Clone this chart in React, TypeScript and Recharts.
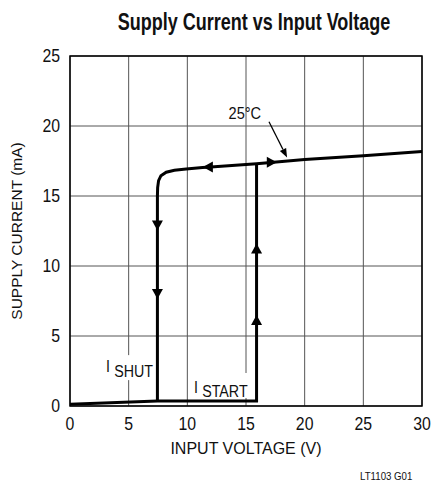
import React from "react";
import {
  ComposedChart,
  Line,
  Scatter,
  XAxis,
  YAxis,
  CartesianGrid,
  ReferenceArea,
  ReferenceDot,
  ReferenceLine,
} from "recharts";

const FONT = "'Liberation Sans', Arial, sans-serif";

const xTicks = [0, 5, 10, 15, 20, 25, 30];
const yTicks = [0, 5, 10, 15, 20, 25];

// falling branch: high VIN down through the knee to shutdown
const shutdownPath = [
  { x: 30, y: 18.17 },
  { x: 25, y: 17.88 },
  { x: 20, y: 17.6 },
  { x: 15.9, y: 17.3 },
  { x: 12, y: 17.08 },
  { x: 11.3, y: 17.04 },
  { x: 9.9, y: 16.93 },
  { x: 8.9, y: 16.84 },
  { x: 8.2, y: 16.7 },
  { x: 7.75, y: 16.45 },
  { x: 7.55, y: 16.1 },
  { x: 7.47, y: 15.6 },
  { x: 7.45, y: 15.0 },
  { x: 7.45, y: 0.36 },
];

// rising branch: off state up to startup threshold
const startupPath = [
  { x: 0, y: 0.12 },
  { x: 7.45, y: 0.36 },
  { x: 15.9, y: 0.36 },
  { x: 15.9, y: 17.3 },
];

const arrowMarks = [
  { x: 11.75, y: 17.08, dir: "left" },
  { x: 17.2, y: 17.41, dir: "right" },
  { x: 7.45, y: 12.9, dir: "down" },
  { x: 7.45, y: 8.0, dir: "down" },
  { x: 15.9, y: 11.25, dir: "up" },
  { x: 15.9, y: 6.15, dir: "up" },
];

const tempLabel = { x: 14.9, y: 20.95, text: "25°C" };
const tempPointer = [
  { x: 16.96, y: 20.3 },
  { x: 18.5, y: 17.75 },
];
const currentLabels = [
  { x: 3.07, y: 2.42, main: "I", sub: "SHUT", drop: 5, box: 48, top: 17 },
  { x: 10.57, y: 0.93, main: "I", sub: "START", drop: 4, box: 58, top: 20 },
];

// condensed look: squeeze regular text horizontally
function Narrow({ x, y, size, sx = 0.84, anchor = "start", children, ...rest }: any) {
  return (
    <text
      transform={`translate(${x},${y}) scale(${sx},1)`}
      textAnchor={anchor}
      fontFamily={FONT}
      fontSize={size}
      fill="#111"
      {...rest}
    >
      {children}
    </text>
  );
}

function ArrowHead(props: any) {
  const { cx, cy, payload } = props;
  const len = 10;
  const half = 5.5;
  let pts = "";
  if (payload.dir === "left")
    pts = `${cx - len / 2},${cy} ${cx + len / 2},${cy - half} ${cx + len / 2},${cy + half}`;
  else if (payload.dir === "right")
    pts = `${cx + len / 2},${cy} ${cx - len / 2},${cy - half} ${cx - len / 2},${cy + half}`;
  else if (payload.dir === "down")
    pts = `${cx},${cy + len / 2} ${cx - half},${cy - len / 2} ${cx + half},${cy - len / 2}`;
  else pts = `${cx},${cy - len / 2} ${cx - half},${cy + len / 2} ${cx + half},${cy + len / 2}`;
  return <polygon points={pts} fill="#000" />;
}

function CurrentLabel(props: any) {
  const { cx, cy, main, sub, drop, box, top } = props;
  return (
    <g>
      <rect x={cx - 4} y={cy - top} width={box} height={25} fill="#fff" />
      <Narrow x={cx} y={cy} size={17}>
        {main}
        <tspan dx={5} dy={drop}>
          {sub}
        </tspan>
      </Narrow>
    </g>
  );
}

function Pointer(props: any) {
  const { x1, y1, x2, y2 } = props;
  const ang = Math.atan2(y2 - y1, x2 - x1);
  const l = 9;
  const w = 3.5;
  const bx = x2 - l * Math.cos(ang);
  const by = y2 - l * Math.sin(ang);
  const px = -Math.sin(ang) * w;
  const py = Math.cos(ang) * w;
  return (
    <g>
      <line x1={x1} y1={y1} x2={bx} y2={by} stroke="#000" strokeWidth={1.3} />
      <polygon
        points={`${x2},${y2} ${bx + px},${by + py} ${bx - px},${by - py}`}
        fill="#000"
      />
    </g>
  );
}

function XTick(props: any) {
  const { x, y, payload } = props;
  return (
    <Narrow x={x} y={y + 14} size={18} sx={0.88} anchor="middle">
      {payload.value}
    </Narrow>
  );
}

function YTick(props: any) {
  const { x, y, payload } = props;
  return (
    <Narrow x={x} y={y + 6} size={18} sx={0.88} anchor="end">
      {payload.value}
    </Narrow>
  );
}

export default function App() {
  return (
    <div
      style={{
        position: "absolute",
        left: 0,
        top: 0,
        width: 431,
        height: 489,
        background: "#fff",
        fontFamily: FONT,
      }}
    >
      <div
        style={{
          position: "absolute",
          left: 254,
          top: 8,
          transform: "translateX(-50%) scaleX(0.75)",
          whiteSpace: "nowrap",
          fontWeight: 700,
          fontSize: 24,
          color: "#111",
        }}
      >
        Supply Current vs Input Voltage
      </div>
      <ComposedChart
        width={431}
        height={489}
        margin={{ top: 56, right: 9, bottom: 0, left: 0 }}
      >
        <CartesianGrid stroke="#555" strokeWidth={1} />
        <XAxis
          type="number"
          dataKey="x"
          domain={[0, 30]}
          ticks={xTicks}
          tickLine={false}
          axisLine={false}
          tickMargin={4}
          height={83}
          tick={<XTick />}
          label={{
            value: "INPUT VOLTAGE (V)",
            position: "insideTop",
            offset: 37,
            style: { fill: "#111", fontSize: 16, fontFamily: FONT },
          }}
        />
        <YAxis
          type="number"
          dataKey="y"
          domain={[0, 25]}
          ticks={yTicks}
          tickLine={false}
          axisLine={false}
          tickMargin={4}
          width={70}
          tick={<YTick />}
          label={{
            value: "SUPPLY CURRENT (mA)",
            angle: -90,
            position: "insideLeft",
            offset: 16,
            style: { textAnchor: "middle", fill: "#111", fontSize: 15.5, fontFamily: FONT },
          }}
        />
        <ReferenceArea x1={0} x2={30} y1={0} y2={25} fill="none" stroke="#000" strokeWidth={1.5} />
        {currentLabels.map((l) => (
          <ReferenceDot
            key={l.sub}
            x={l.x}
            y={l.y}
            shape={(p: any) => (
              <CurrentLabel
                {...p}
                main={l.main}
                sub={l.sub}
                drop={l.drop}
                box={l.box}
                top={l.top}
              />
            )}
          />
        ))}
        <Line
          data={shutdownPath}
          dataKey="y"
          type="linear"
          stroke="#000"
          strokeWidth={3}
          dot={false}
          isAnimationActive={false}
        />
        <Line
          data={startupPath}
          dataKey="y"
          type="linear"
          stroke="#000"
          strokeWidth={3}
          dot={false}
          isAnimationActive={false}
        />
        <Scatter data={arrowMarks} dataKey="y" shape={ArrowHead} isAnimationActive={false} />
        <ReferenceLine segment={tempPointer} shape={(p: any) => <Pointer {...p} />} />
        <ReferenceDot
          x={tempLabel.x}
          y={tempLabel.y}
          shape={(p: any) => (
            <Narrow x={p.cx} y={p.cy + 6} size={17} sx={0.86} anchor="middle">
              {tempLabel.text}
            </Narrow>
          )}
        />
      </ComposedChart>
      <div
        style={{
          position: "absolute",
          left: 360,
          top: 470,
          fontSize: 11,
          color: "#111",
          transform: "scaleX(0.88)",
          transformOrigin: "left top",
          whiteSpace: "nowrap",
        }}
      >
        LT1103 G01
      </div>
    </div>
  );
}
